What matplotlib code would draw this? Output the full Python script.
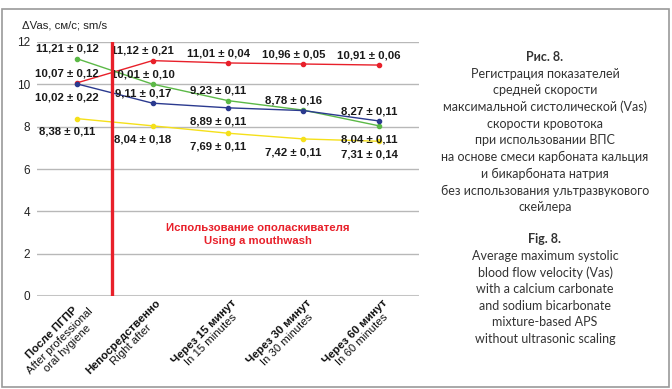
import matplotlib
matplotlib.use("Agg")
import matplotlib.pyplot as plt
import numpy as np

# data
cats_ru = ["После ПГПР", "Непосредственно", "Через 15 минут", "Через 30 минут", "Через 60 минут"]
cats_en = ["After professional\noral hygiene", "Right after", "In 15 minutes", "In 30 minutes", "In 60 minutes"]

red_vals = [10.07, 11.12, 11.01, 10.96, 10.91]
red_err = ["0,12", "0,21", "0,04", "0,05", "0,06"]
green_vals = [11.21, 10.01, 9.23, 8.78, 8.04]
green_err = ["0,12", "0,10", "0,11", "0,16", "0,11"]
blue_vals = [10.02, 9.11, 8.89, 8.76, 8.27]
blue_err = ["0,22", "0,17", "0,11", None, "0,11"]
yellow_vals = [8.38, 8.04, 7.69, 7.42, 7.31]
yellow_err = ["0,11", "0,18", "0,11", "0,11", "0,14"]

# label placement: +1 above point, -1 below
red_side = [1, 1, 1, 1, 1]
green_side = [1, 1, 1, 1, -1]
blue_side = [-1, 1, -1, 1, 1]
yellow_side = [-1, -1, -1, -1, -1]

caption_ru = ["Регистрация показателей", "средней скорости",
              "максимальной систолической (Vas)", "скорости кровотока",
              "при использовании ВПС", "на основе смеси карбоната кальция",
              "и бикарбоната натрия", "без использования ультразвукового",
              "скейлера"]
caption_en = ["Average maximum systolic", "blood flow velocity (Vas)",
              "with a calcium carbonate", "and sodium bicarbonate",
              "mixture-based APS", "without ultrasonic scaling"]

plt.rcParams['font.family'] = ['Liberation Sans', 'DejaVu Sans']

fig = plt.figure(figsize=(6.72, 3.89), dpi=100)
ax = fig.add_axes([37/672, 1 - 296/389, (419 - 37)/672, (296 - 42)/389])

x = np.arange(len(cats_ru))
series = [
    (red_vals, red_err, red_side, "#e8202a"),
    (green_vals, green_err, green_side, "#5cb947"),
    (blue_vals, blue_err, blue_side, "#2b3a8f"),
    (yellow_vals, yellow_err, yellow_side, "#f5e01a"),
]
for vals, errs, sides, col in series:
    ax.plot(x, vals, color=col, lw=1.0, marker="o", ms=3.0, zorder=3)
    for xi, v, e, s in zip(x, vals, errs, sides):
        if e is None:
            continue
        txt = f"{v:.2f}".replace(".", ",") + " ± " + e
        ax.annotate(txt, (xi - 0.13, v), xytext=(0, 8.3 * s - 1.3), textcoords="offset points",
                    ha="center", va="center", fontsize=8.2, fontweight="bold",
                    color="#1a1a1a", zorder=4)

ax.set_xlim(-0.53, 4.53)
ax.set_ylim(0, 12)
ax.set_yticks(range(0, 13, 2))
for yv in range(2, 13, 2):
    ax.axhline(yv, color="#b8b8b8", lw=1.0, zorder=1)
ax.axhline(0, color="#c4c4c4", lw=2.2, zorder=1)
ax.axvline(0.46, ymin=0, ymax=1, color="#e8202a", lw=2.4, zorder=5)

for sp in ax.spines.values():
    sp.set_visible(False)
ax.tick_params(axis="y", length=0, pad=5, labelsize=8.5, labelcolor="#222222")
ax.tick_params(axis="x", length=0, labelbottom=False)
ax.set_xticks(x)

ax.text(2.4, 2.9, "Использование ополаскивателя\nUsing a mouthwash", ha="center", va="center",
        fontsize=8.2, fontweight="bold", color="#e8202a", linespacing=1.3)

fig.text(22/672, 1 - 26/389, "ΔVas, см/с; sm/s", ha="left", va="center", fontsize=8.2, color="#222222")

# rotated category labels
fig.canvas.draw()
rend = fig.canvas.get_renderer()
ang = np.deg2rad(45)
for xi, ru, en in zip(x, cats_ru, cats_en):
    n_en = en.count("\n") + 1
    tb = fig.text(0, 0, ru, fontsize=8.2, fontweight="bold")
    te = fig.text(0, 0, en, fontsize=8.2)
    w = max(tb.get_window_extent(rend).width, te.get_window_extent(rend).width) * 72 / 100
    tb.remove()
    te.remove()
    dx = -w / 2 * np.cos(ang) + 2
    dy = -w / 2 * np.sin(ang) - 1.5
    ax.annotate(ru + "\n" * n_en, (xi, 0), xytext=(dx, dy), textcoords="offset points",
                ha="center", va="top", rotation=45, rotation_mode="anchor",
                fontsize=8.2, fontweight="bold", color="#111111", linespacing=1.1,
                annotation_clip=False)
    ax.annotate(" \n" + en, (xi, 0), xytext=(dx, dy), textcoords="offset points",
                ha="center", va="top", rotation=45, rotation_mode="anchor",
                fontsize=8.2, color="#111111", linespacing=1.1,
                annotation_clip=False)

# caption on the right
cx = 545 / 672
step = 16.7 / 389
cap_font = ['Lato', 'DejaVu Sans']
fig.text(cx, 1 - 57/389, "Рис. 8.", ha="center", va="center", fontsize=9, fontweight="bold",
         family=cap_font, color="#333333")
for i, line in enumerate(caption_ru):
    fig.text(cx, 1 - 57/389 - (i + 1) * step, line, ha="center", va="center", fontsize=9,
             family=cap_font, color="#333333")
y0 = 1 - 239/389
fig.text(cx, y0, "Fig. 8.", ha="center", va="center", fontsize=9, fontweight="bold",
         family=cap_font, color="#333333")
for i, line in enumerate(caption_en):
    fig.text(cx, y0 - (i + 1) * step, line, ha="center", va="center", fontsize=9,
             family=cap_font, color="#333333")

# outer frame
fig.patches.append(plt.Rectangle((2/672, 2/389), 667/672, 378/389, transform=fig.transFigure,
                                 fill=False, ec="#9a9a9a", lw=1.2))

fig.savefig("out.png", dpi=100)
